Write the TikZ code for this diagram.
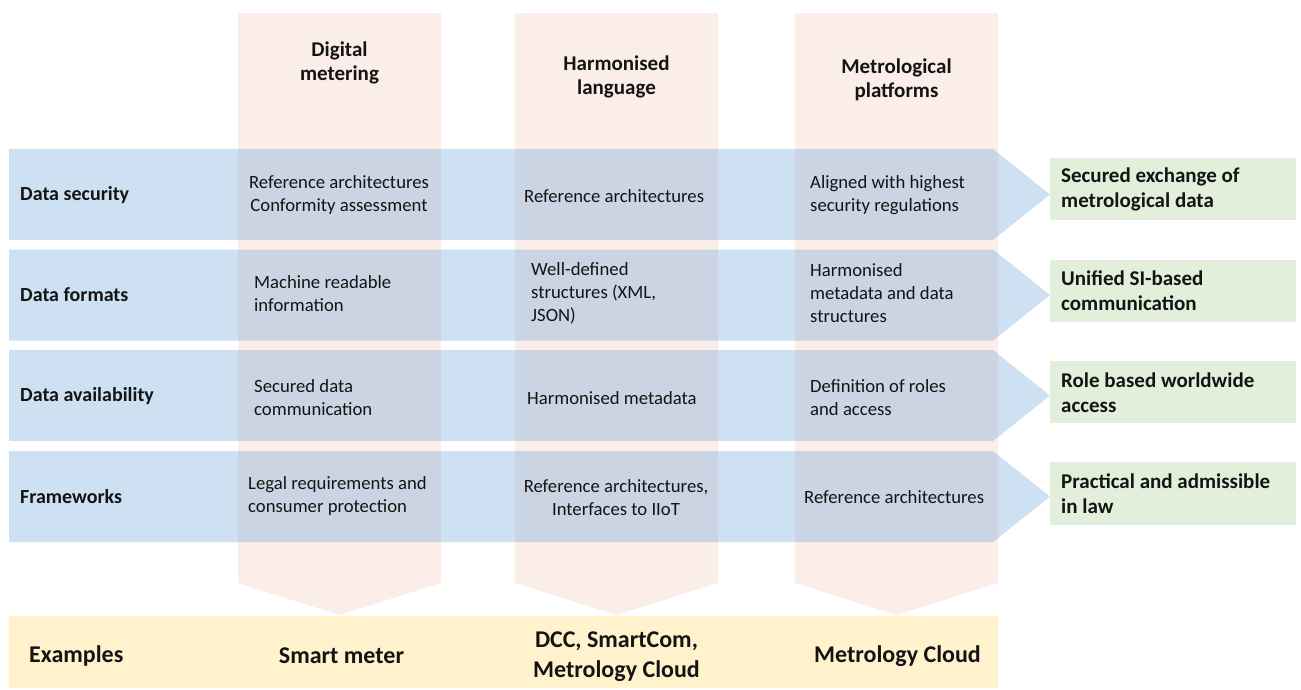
\documentclass[tikz,border=0pt]{standalone}
\usepackage{fontspec}
\setmainfont{Carlito}
\definecolor{rowblue}{RGB}{91,155,213}
\definecolor{colpink}{RGB}{251,238,232}
\definecolor{exyellow}{RGB}{255,242,204}
\definecolor{resgreen}{RGB}{226,239,218}
\definecolor{txtcol}{RGB}{20,20,20}
\begin{document}
\begin{tikzpicture}[x=1pt,y=-1pt,
  colshape/.style={fill=colpink},
  rowshape/.style={fill=rowblue,fill opacity=0.3},
  resbox/.style={fill=resgreen},
  exbox/.style={fill=exyellow},
  body/.style={inner sep=0pt,text=txtcol,font=\fontsize{18.7}{23}\selectfont},
  bodyl/.style={body,anchor=west,align=left},
  bodyc/.style={body,align=center},
  rowlab/.style={inner sep=0pt,anchor=west,text=txtcol,font=\bfseries\fontsize{20}{24.4}\selectfont},
  colhead/.style={inner sep=0pt,align=center,text=txtcol,font=\bfseries\fontsize{21}{24.5}\selectfont},
  restext/.style={inner sep=0pt,anchor=west,align=left,text=txtcol,font=\bfseries\fontsize{21}{25}\selectfont},
  extext/.style={inner sep=0pt,align=center,text=txtcol,font=\bfseries\fontsize{24}{30}\selectfont}]
\useasboundingbox (0,0) rectangle (1301,689);
% columns
\foreach \l in {238,515,795}{
  \fill[colshape] (\l,13) -- ++(203,0) -- ++(0,570) -- ++(-101.5,32) -- ++(-101.5,-32) -- cycle;
}
% examples band
\fill[exbox] (9,616) rectangle (998,688);
% rows
\foreach \t in {149,249.5,350,451}{
  \fill[rowshape] (9,\t) -- (993,\t) -- (1050,{\t+45.5}) -- (993,{\t+91}) -- (9,{\t+91}) -- cycle;
}
% result boxes
\fill[resbox] (1050,158) rectangle (1296,220);
\fill[resbox] (1050,260) rectangle (1296,322);
\fill[resbox] (1050,361) rectangle (1296,423);
\fill[resbox] (1050,462) rectangle (1296,525);
% column headers
\node[colhead] (h1) at (339.5,63) {Digital\\metering};
\node[colhead] (h2) at (616.5,77) {Harmonised\\language};
\node[colhead] (h3) at (896.5,80) {Metrological\\platforms};
% row labels
\node[rowlab] (r1) at (20,195) {Data security};
\node[rowlab] (r2) at (20,295) {Data formats};
\node[rowlab] (r3) at (20,396) {Data availability};
\node[rowlab] (r4) at (20,497) {Frameworks};
% cells row 1
\node[bodyc] (c11) at (339,195) {Reference architectures\\Conformity assessment};
\node[bodyl] (c12) at (524,196) {Reference architectures};
\node[bodyl] (c13) at (810,195.5) {Aligned with highest\\security regulations};
% row 2
\node[bodyl] (c21) at (254,293.5) {Machine readable\\information};
\node[bodyl] (c22) at (531,293) {Well-defined\\structures (XML,\\JSON)};
\node[bodyl] (c23) at (810,293) {Harmonised\\metadata and data\\structures};
% row 3
\node[bodyl] (c31) at (254,398) {Secured data\\communication};
\node[bodyl] (c32) at (527,398) {Harmonised metadata};
\node[bodyl] (c33) at (810,398) {Definition of roles\\and access};
% row 4
\node[bodyl] (c41) at (248,496) {Legal requirements and\\consumer protection};
\node[bodyc] (c42) at (616,497.5) {Reference architectures,\\Interfaces to IIoT};
\node[bodyl] (c43) at (804,497) {Reference architectures};
% results
\node[restext] (g1) at (1061,189.5) {Secured exchange of\\metrological data};
\node[restext] (g2) at (1061,291) {Unified SI-based\\communication};
\node[restext] (g3) at (1061,392.5) {Role based worldwide\\access};
\node[restext] (g4) at (1061,493.5) {Practical and admissible\\in law};
% examples
\node[extext,anchor=west] (e0) at (29,656) {Examples};
\node[extext] (e1) at (341.5,656) {Smart meter};
\node[extext] (e2) at (616.5,657) {DCC, SmartCom,\\Metrology Cloud};
\node[extext] (e3) at (897.5,656) {Metrology Cloud};
\end{tikzpicture}
\end{document}
